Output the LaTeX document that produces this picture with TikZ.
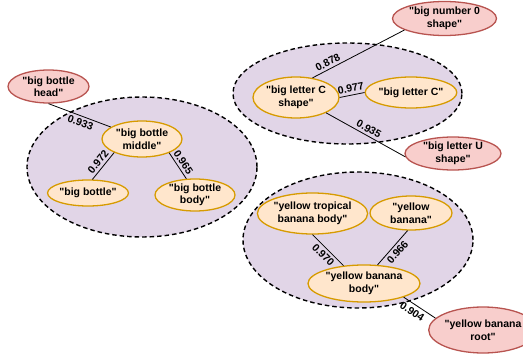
\documentclass[tikz,border=0pt]{standalone}
\usepackage{fontspec}
\newfontfamily\lsans{Liberation Sans}
\usetikzlibrary{shapes.geometric}
\definecolor{clfill}{HTML}{E1D5E7}
\definecolor{yfill}{HTML}{FFE6CC}
\definecolor{ydraw}{HTML}{D79B00}
\definecolor{rfill}{HTML}{F8CECC}
\definecolor{rdraw}{HTML}{B85450}
\tikzset{
  cluster/.style={ellipse, draw=black, fill=clfill, line width=1.4pt, dash pattern=on 4.5pt off 3pt, inner sep=0pt},
  ynode/.style={ellipse, draw=ydraw, fill=yfill, line width=1.3pt, inner sep=0pt, align=center, font=\lsans\fontsize{10.5}{12.5}\selectfont\bfseries},
  rnode/.style={ellipse, draw=rdraw, fill=rfill, line width=1.3pt, inner sep=0pt, align=center, font=\lsans\fontsize{10.5}{12.5}\selectfont\bfseries},
  edge/.style={draw=black, line width=0.8pt},
  elab/.style={sloped, inner sep=2.5pt, font=\lsans\fontsize{10.5}{12}\selectfont\bfseries}
}
\begin{document}
\begin{tikzpicture}[x=1pt, y=-1pt]
\useasboundingbox (0,0) rectangle (523,356);
% clusters
\node[cluster, minimum width=230pt, minimum height=140pt] (cl1) at (142,167) {};
\node[cluster, minimum width=229pt, minimum height=101pt] (cl2) at (347.5,93.5) {};
\node[cluster, minimum width=230pt, minimum height=136pt] (cl3) at (358,240) {};
% nodes cluster 1
\node[rnode, minimum width=81pt, minimum height=33pt] (head) at (48.5,86.5) {"big bottle\\head"};
\node[ynode, minimum width=80pt, minimum height=36pt] (middle) at (142,139) {"big bottle\\middle"};
\node[ynode, minimum width=70pt, minimum height=26pt] (bottle) at (88,193) {"big bottle"};
\node[ynode, minimum width=80pt, minimum height=32pt] (body) at (195,195) {"big bottle\\body"};
% nodes cluster 2
\node[rnode, minimum width=104pt, minimum height=34pt] (num0) at (444.5,18.5) {"big number 0\\shape"};
\node[ynode, minimum width=86pt, minimum height=41pt] (cshape) at (296,97.5) {"big letter C\\shape"};
\node[ynode, minimum width=80pt, minimum height=31pt] (cletter) at (411,92.5) {"big letter C"};
\node[rnode, minimum width=96pt, minimum height=33pt] (ushape) at (453,153.5) {"big letter U\\shape"};
% nodes cluster 3
\node[ynode, minimum width=97pt, minimum height=41pt] (trop) at (312.5,213.5) {"yellow tropical\\banana body"};
\node[ynode, minimum width=82pt, minimum height=34pt] (yban) at (411,213) {"yellow\\banana"};
\node[ynode, minimum width=112pt, minimum height=37pt] (ybody) at (364,283.5) {"yellow banana\\body"};
\node[rnode, minimum width=100pt, minimum height=46pt] (root) at (483,330) {"yellow banana\\root"};
% edges
\draw[edge] (head.south) -- node[elab, below, pos=0.55] {0.933} (middle.159);
\draw[edge] (bottle.72) -- node[elab, above] {0.972} (middle.206);
\draw[edge] (middle.333) -- node[elab, above] {0.965} (body.118);
\draw[edge] (cshape.50) -- node[elab, above, pos=0.2] {0.878} (num0.196);
\draw[edge] (cshape.east) -- node[elab, above] {0.977} (cletter.west);
\draw[edge] (cshape.333) -- node[elab, above] {0.935} (ushape.184);
\draw[edge] (trop.south) -- node[elab, below] {0.970} (ybody.139);
\draw[edge] (ybody.54) -- node[elab, below] {0.966} (yban.259);
\draw[edge] (ybody.341) -- node[elab, below, pos=0.4, inner sep=3.5pt] {0.904} (root.166);
\end{tikzpicture}
\end{document}
